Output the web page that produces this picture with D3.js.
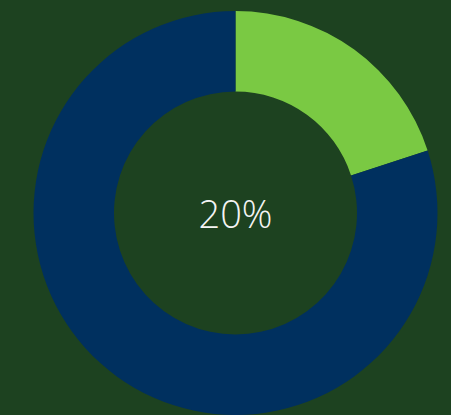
<!DOCTYPE html>
<meta charset="utf-8">
<head>
    <title>Donut</title>
    <style>
        body { margin: 0; background: #1d4220; }
        svg { display: block; }
    </style>
</head>
<body>
    <script src="https://cdn.jsdelivr.net/npm/d3@7"></script>
    <svg id="donut"></svg>
    <script>
        // chart values
        var labels = ["Share", "Rest"];
        var values = [20, 80];
        var colors = ["#7ac943", "#00305f"];
        var centerLabel = "20%";

        var width = 451, height = 415;
        var cx = 235.5, cy = 213;
        var outerR = 202, innerR = 121.5;

        var svg = d3.select("#donut")
            .attr("width", width)
            .attr("height", height);

        svg.append("rect")
            .attr("width", width)
            .attr("height", height)
            .attr("fill", "#1d4220");

        var pie = d3.pie().sort(null).value(function(d) { return d; });
        var arc = d3.arc().innerRadius(innerR).outerRadius(outerR);

        var g = svg.append("g")
            .attr("transform", "translate(" + cx + "," + cy + ")");

        g.selectAll("path")
            .data(pie(values))
            .enter().append("path")
            .attr("d", arc)
            .attr("fill", function(d, i) { return colors[i]; });

        g.append("text")
            .attr("text-anchor", "middle")
            .attr("y", 15)
            .attr("fill", "#f4f4f4")
            .style("font-family", "'Open Sans', sans-serif")
            .style("font-weight", 300)
            .style("font-size", "38px")
            .text(centerLabel);
    </script>
</body>
